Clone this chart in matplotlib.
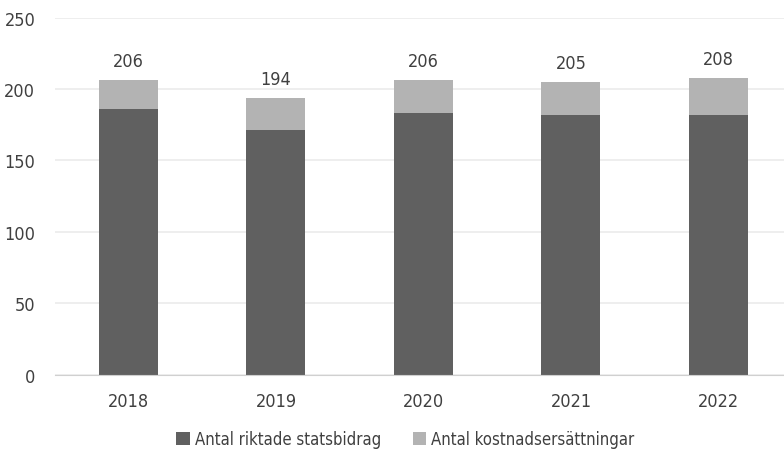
import matplotlib
matplotlib.use("Agg")
import matplotlib.pyplot as plt
import numpy as np

plt.rcParams['font.family'] = ['DejaVu Sans']
plt.rcParams['font.stretch'] = 'condensed'

years = ['2018', '2019', '2020', '2021', '2022']
statsbidrag = [186, 171, 183, 182, 182]
kostnad = [20, 23, 23, 23, 26]
totals = [206, 194, 206, 205, 208]

dark = '#606060'
light = '#b3b3b3'
txt = '#404040'

fig = plt.figure(figsize=(7.84, 4.64), dpi=100)
ax = fig.add_axes([0.0698, 0.190, 0.9407, 0.770])

x = np.arange(len(years))
w = 0.40
ax.bar(x, statsbidrag, w, color=dark, label='Antal riktade statsbidrag', zorder=2)
ax.bar(x, kostnad, w, bottom=statsbidrag, color=light, label='Antal kostnadsersättningar', zorder=2)

for xi, t in zip(x, totals):
    ax.text(xi, t + 7, str(t), ha='center', va='bottom', fontsize=13, color=txt)

ax.set_ylim(0, 250)
ax.set_xlim(-0.5, len(years) - 0.5)
ax.set_yticks(range(0, 251, 50))
ax.set_xticks(x)
ax.set_xticklabels(years)
ax.yaxis.grid(True, color='#ebebeb', linewidth=1.2, zorder=0)
ax.set_axisbelow(True)
for s in ['top', 'right', 'left']:
    ax.spines[s].set_visible(False)
ax.spines['bottom'].set_color('#d0d0d0')
ax.tick_params(axis='both', length=0, labelsize=13, colors=txt, pad=12)
ax.tick_params(axis='y', pad=14)

fig.legend(loc='lower center', bbox_to_anchor=(0.517, 0.0), ncol=2, frameon=False,
           fontsize=12, handlelength=0.8, handleheight=0.8, handletextpad=0.3,
           columnspacing=1.9, labelcolor=txt)

fig.savefig('out.png', dpi=100)
